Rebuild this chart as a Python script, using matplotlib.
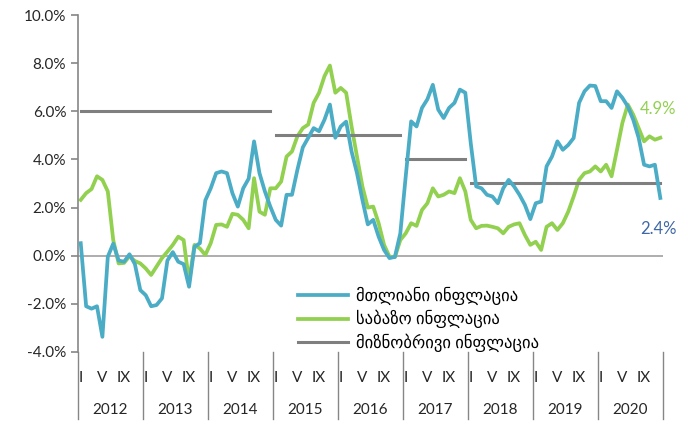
import matplotlib.pyplot as plt

COLORS = {
    "blue": "#4BACC6",
    "green": "#92D050",
    "gray": "#7F7F7F",
    "navy": "#3F68A6",
    "text": "#262626",
}
YEARS = list(range(2012, 2021))

# monthly y/y inflation, %, Jan 2012 - Dec 2020
HEADLINE = [0.52, -2.1, -2.2, -2.1, -3.37, -0.04, 0.5, -0.2, -0.25, 0.06, -0.35, -1.43,
            -1.64, -2.1, -2.05, -1.77, -0.2, 0.15, -0.25, -0.35, -1.29, 0.37, 0.52, 2.3,
            2.8, 3.43, 3.5, 3.43, 2.6, 2.04, 2.8, 3.2, 4.75, 3.43, 2.67, 2.04,
            1.49, 1.25, 2.53, 2.53, 3.57, 4.5, 4.9, 5.3, 5.17, 5.65, 6.28, 4.9,
            5.37, 5.57, 4.33, 3.43, 2.32, 1.3, 1.49, 0.79, 0.24, -0.1, -0.05, 0.93,
            3.3, 5.58, 5.37, 6.14, 6.5, 7.1, 6.07, 5.72, 6.14, 6.35, 6.9, 6.77,
            4.68, 2.88, 2.8, 2.53, 2.46, 2.18, 2.8, 3.15, 2.88, 2.53, 2.11, 1.52,
            2.18, 2.25, 3.71, 4.12, 4.75, 4.4, 4.6, 4.89, 6.35, 6.83, 7.07, 7.05,
            6.42, 6.42, 6.14, 6.83, 6.56, 6.2, 5.65, 4.9, 3.78, 3.71, 3.78, 2.4]
CORE = [2.32, 2.6, 2.77, 3.3, 3.15, 2.67, 0.65, -0.32, -0.3, -0.02, -0.22, -0.32,
        -0.53, -0.8, -0.45, -0.1, 0.17, 0.45, 0.79, 0.65, -1.08, 0.45, 0.3, 0.03,
        0.52, 1.28, 1.3, 1.2, 1.74, 1.7, 1.49, 1.14, 3.22, 1.83, 1.7, 2.8,
        2.8, 3.08, 4.12, 4.33, 4.96, 5.3, 5.45, 6.35, 6.77, 7.46, 7.9, 6.77,
        6.97, 6.77, 5.37, 4.12, 2.88, 2.0, 2.04, 1.35, 0.45, -0.04, -0.06, 0.65,
        0.93, 1.35, 1.24, 1.9, 2.18, 2.8, 2.46, 2.53, 2.67, 2.6, 3.22, 2.67,
        1.49, 1.14, 1.24, 1.25, 1.2, 1.14, 0.93, 1.2, 1.3, 1.35, 0.86, 0.45,
        0.58, 0.24, 1.2, 1.35, 1.07, 1.35, 1.83, 2.46, 3.15, 3.43, 3.5, 3.71,
        3.5, 3.78, 3.3, 4.4, 5.52, 6.28, 5.86, 5.3, 4.75, 4.96, 4.82, 4.9]
TARGETS = [(0, 35, 6.0), (36, 59, 5.0), (60, 71, 4.0), (72, 107, 3.0)]  # first month, last month, target

if __name__ == '__main__':
    plt.rcParams['font.family'] = ['Lato', 'DejaVu Sans']
    months = list(range(len(HEADLINE)))

    plt.figure(figsize=(6.88, 4.25), dpi=100)
    plt.subplots_adjust(left=0.1134, right=0.9637, top=0.9647, bottom=0.1718)
    plt.axhline(0, color="#A0A0A0", lw=1.2, zorder=1)
    plt.plot(months, HEADLINE, label="მთლიანი ინფლაცია", c=COLORS["blue"], lw=2.7, zorder=3)
    plt.plot(months, CORE, label="საბაზო ინფლაცია", c=COLORS["green"], lw=2.7, zorder=2)
    for n, (first, last, target) in enumerate(TARGETS):
        plt.plot(range(first, last + 1), [target] * (last - first + 1), c=COLORS["gray"], lw=2.2,
                 label="მიზნობრივი ინფლაცია" if n == 0 else None, zorder=2)

    plt.text(103.2, 6.1, "4.9%", color=COLORS["green"], fontsize=12, va="center")
    plt.text(103.2, 1.1, "2.4%", color=COLORS["navy"], fontsize=12, va="center")

    plt.xlim(-0.5, len(months) - 0.5)
    plt.ylim(-4, 10)
    plt.yticks(range(-4, 11, 2), [f"{v:.1f}%" for v in range(-4, 11, 2)], fontsize=11, color=COLORS["text"])
    plt.xticks([])
    ax = plt.gca()
    ax.tick_params(axis="y", length=5, width=1.2, color="#868686")
    for side in ["top", "right", "bottom"]:
        ax.spines[side].set_visible(False)
    ax.spines["left"].set_color("#868686")
    ax.spines["left"].set_linewidth(1.2)

    # two-level category axis: months and years
    trans = ax.get_xaxis_transform()
    for k, year in enumerate(YEARS):
        for m, name in [(0, "I"), (4, "V"), (8, "IX")]:
            plt.text(12 * k + m, -0.077, name, transform=trans, ha="center", va="center",
                     fontsize=11, color=COLORS["text"])
        plt.text(12 * k + 5.5, -0.172, str(year), transform=trans, ha="center", va="center",
                 fontsize=11, color=COLORS["text"])
    for k in range(len(YEARS) + 1):
        plt.plot([12 * k - 0.5] * 2, [0, -0.2], transform=trans, c="#868686", lw=1, clip_on=False)

    plt.legend(loc="upper left", bbox_to_anchor=(0.361, 0.218), frameon=False, fontsize=12,
               handlelength=3.0, labelspacing=0.3, borderpad=0, handletextpad=0.5)
    plt.savefig("out.png")
